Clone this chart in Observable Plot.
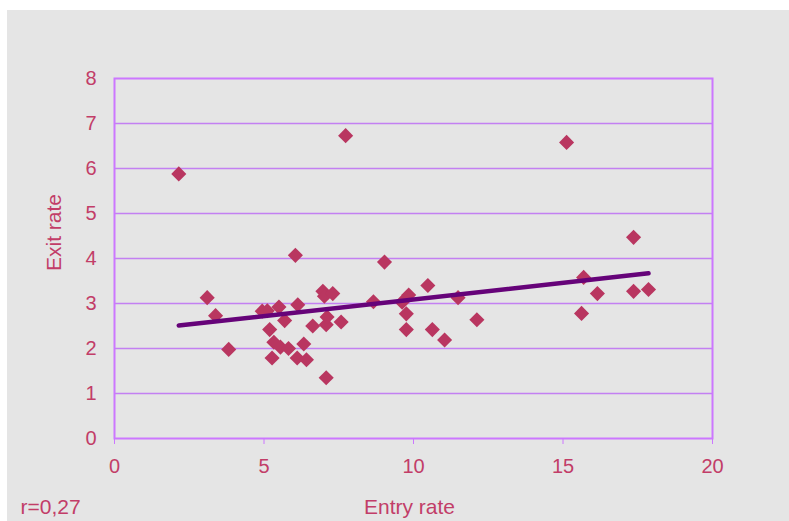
<!DOCTYPE html>
<html>
<head>
<meta charset="utf-8">
<style>
  html, body { margin: 0; padding: 0; background: #ffffff; }
  #chart { position: absolute; left: 7px; top: 10px; }
  #chart svg { display: block; }
</style>
<script src="https://cdn.jsdelivr.net/npm/d3@7"></script>
<script src="https://cdn.jsdelivr.net/npm/@observablehq/plot@0.6"></script>
</head>
<body>
<div id="chart"></div>
<script>
// Data
const entryRate = [2.15, 3.10, 3.38, 3.82, 4.94, 5.11, 5.19, 5.27, 5.33, 5.50,
                   5.55, 5.69, 5.82, 6.05, 6.11, 6.13, 6.33, 6.42, 6.63, 6.97,
                   7.02, 7.08, 7.08, 7.11, 7.30, 7.58, 7.73, 8.66, 9.03, 9.62,
                   9.76, 9.76, 9.84, 10.48, 10.63, 11.04, 11.49, 12.12, 15.12, 15.62,
                   15.69, 16.15, 17.36, 17.36, 17.86];
const exitRate  = [5.88, 3.13, 2.73, 1.98, 2.83, 2.84, 2.42, 1.79, 2.14, 2.92,
                   2.03, 2.62, 2.00, 4.07, 1.79, 2.97, 2.10, 1.75, 2.50, 3.27,
                   3.16, 2.53, 1.35, 2.70, 3.22, 2.59, 6.73, 3.04, 3.92, 3.03,
                   2.77, 2.42, 3.19, 3.40, 2.42, 2.19, 3.13, 2.64, 6.58, 2.78,
                   3.58, 3.22, 4.47, 3.27, 3.31];
const trendX = [2.15, 17.86];
const trendY = [2.51, 3.67];
const xTicks = [0, 5, 10, 15, 20];
const yTicks = [0, 1, 2, 3, 4, 5, 6, 7, 8];
const gridTicks = [1, 2, 3, 4, 5, 6, 7];
const xLabel = "Entry rate";
const yLabel = "Exit rate";
const note = "r=0,27";

const points = entryRate.map((x, i) => ({x, y: exitRate[i]}));
const trend = trendX.map((x, i) => ({x, y: trendY[i]}));

const textColor = "#c23d68";
const frameColor = "#cc77ff";

const chart = Plot.plot({
  width: 782,
  height: 511,
  marginLeft: 107,
  marginRight: 77,
  marginTop: 68,
  marginBottom: 83,
  style: {
    background: "#e5e5e5",
    fontFamily: "'Liberation Sans', Arial, sans-serif",
    fontSize: "20px",
    color: textColor
  },
  x: {domain: [0, 20]},
  y: {domain: [0, 8]},
  marks: [
    Plot.gridY(gridTicks, {stroke: "#c380f2", strokeOpacity: 1, strokeWidth: 1.3}),
    Plot.frame({stroke: frameColor, strokeWidth: 2}),
    Plot.axisX({ticks: xTicks, tickSize: 6, tickPadding: 14, stroke: frameColor, strokeOpacity: 1, fill: textColor, label: null, fontSize: 20}),
    Plot.axisY({ticks: yTicks, tickSize: 0, tickPadding: 18, fill: textColor, label: null, fontSize: 20}),
    Plot.dot(points, {x: "x", y: "y", symbol: "diamond2", r: 6.8, fill: "#b93660", stroke: null}),
    Plot.line(trend, {x: "x", y: "y", stroke: "#660379", strokeWidth: 4.5, strokeLinecap: "round"}),
    Plot.text([xLabel], {frameAnchor: "bottom", dx: -4, dy: 69, text: d => d, fill: textColor, fontSize: 21, textAnchor: "middle", lineAnchor: "middle"}),
    Plot.text([note], {frameAnchor: "bottom-left", dx: -94, dy: 69, text: d => d, fill: textColor, fontSize: 21, textAnchor: "start", lineAnchor: "middle"}),
    Plot.text([yLabel], {frameAnchor: "left", dx: -60, dy: -26, rotate: -90, text: d => d, fill: textColor, fontSize: 21, textAnchor: "middle", lineAnchor: "middle"})
  ]
});
document.getElementById("chart").appendChild(chart);
</script>
</body>
</html>
